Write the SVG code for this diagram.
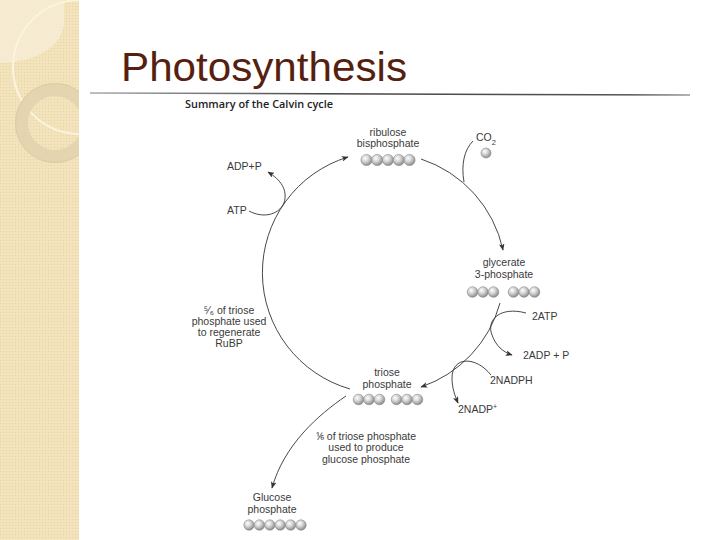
<svg xmlns="http://www.w3.org/2000/svg" width="720" height="540" viewBox="0 0 720 540">
<defs>
<style>
.t{font-family:"Liberation Sans",Arial,sans-serif;font-size:10.5px;fill:#3a3a3a}
.c{text-anchor:middle}
.ln{fill:none;stroke:#333;stroke-width:0.9}
.ball{fill:url(#bg);stroke:#8a8a8a;stroke-width:0.6}
</style>
<pattern id="dots" width="3" height="3" patternUnits="userSpaceOnUse">
<rect width="3" height="3" fill="#f2e2b9"/><rect width="1" height="1" fill="#e8d6a8"/><rect x="1.5" y="1.5" width="1" height="1" fill="#f6eacb"/>
</pattern>
<radialGradient id="bg" cx="38%" cy="35%" r="65%">
<stop offset="0" stop-color="#ffffff"/><stop offset="0.5" stop-color="#d0d0d0"/><stop offset="1" stop-color="#8c8c8c"/>
</radialGradient>
<linearGradient id="lg" x1="0" x2="1" y1="0" y2="0">
<stop offset="0" stop-color="#aaa"/><stop offset="0.4" stop-color="#444"/><stop offset="0.9" stop-color="#555"/><stop offset="1" stop-color="#999"/>
</linearGradient>
<clipPath id="pc"><rect x="0" y="0" width="79" height="540"/></clipPath>
<marker id="ah" viewBox="0 0 10 8" refX="9" refY="4" markerWidth="7" markerHeight="5.6" markerUnits="userSpaceOnUse" orient="auto">
<path d="M0,0 L10,4 L0,8 L2.5,4 z" fill="#333"/>
</marker>
</defs>
<rect width="720" height="540" fill="#fff"/>
<g id="panel">
<rect x="0" y="0" width="79" height="540" fill="url(#dots)"/>
<g clip-path="url(#pc)">
<path d="M0,0 H64 V25 C60,48 36,62 0,63 Z" fill="#f6ecd3" opacity="0.9"/>
<circle cx="80" cy="67" r="67" fill="none" stroke="#fbf4de" stroke-width="2"/>
<circle cx="55" cy="123" r="33.5" fill="none" stroke="#e4d5b0" stroke-width="13"/>
<circle cx="55" cy="123" r="39.5" fill="none" stroke="#ddcca3" stroke-width="1"/>
</g>
</g>
<g id="title">
<text x="121" y="81" font-family="'Liberation Sans',Arial,sans-serif" font-size="40" fill="#561f10" textLength="286" lengthAdjust="spacingAndGlyphs">Photosynthesis</text>
<line x1="90" y1="93" x2="690" y2="95" stroke="url(#lg)" stroke-width="1.5"/>
</g>
<text x="185" y="108" font-family="'Open Sans','Noto Sans',sans-serif" font-size="11" font-weight="600" fill="#222" textLength="148" lengthAdjust="spacingAndGlyphs">Summary of the Calvin cycle</text>
<g id="connectors">
<path class="ln" d="M350,389 A121,121 0 0 1 348,157" marker-end="url(#ah)"/>
<path class="ln" d="M421,159 A123,123 0 0 1 503,250" marker-end="url(#ah)"/>
<path class="ln" d="M500,303 A123,123 0 0 1 421,387" marker-end="url(#ah)"/>
<path class="ln" d="M346,396 C318,415 284,445 272,488" marker-end="url(#ah)"/>
<path class="ln" d="M249,211 C262,218 278,216 284,203 C288,190 281,180 268,172" marker-end="url(#ah)"/>
<path class="ln" d="M473,141 C464,150 461,165 464,182"/>
<path class="ln" d="M526,313 C500,306 486,320 492,335 C496,346 503,352 512,355" marker-end="url(#ah)"/>
<path class="ln" d="M491,375 C476,356 452,356 452,378 C452,388 455,396 458,403" marker-end="url(#ah)"/>
</g>
<g id="ribulose">
<text class="t c" x="388" y="136">ribulose</text>
<text class="t c" x="388" y="147">bisphosphate</text>
<circle class="ball" cx="366.5" cy="160" r="5.6"/><circle class="ball" cx="377.2" cy="160" r="5.6"/><circle class="ball" cx="388" cy="160" r="5.6"/><circle class="ball" cx="398.8" cy="160" r="5.6"/><circle class="ball" cx="409.5" cy="160" r="5.6"/>
</g>
<g id="co2">
<text class="t" x="476" y="141">CO<tspan font-size="7.5" dy="4">2</tspan></text>
<circle class="ball" cx="486" cy="153" r="5"/>
</g>
<g id="atp-left">
<text class="t" x="227" y="170">ADP+P</text>
<text class="t" x="227" y="214">ATP</text>
</g>
<g id="glycerate">
<text class="t c" x="504" y="266">glycerate</text>
<text class="t c" x="504" y="278">3-phosphate</text>
<circle class="ball" cx="472.5" cy="292" r="5.3"/><circle class="ball" cx="483" cy="292" r="5.3"/><circle class="ball" cx="493.5" cy="292" r="5.3"/>
<circle class="ball" cx="513.5" cy="292" r="5.3"/><circle class="ball" cx="524" cy="292" r="5.3"/><circle class="ball" cx="534.5" cy="292" r="5.3"/>
</g>
<g id="regen">
<text class="t c" x="229" y="314">⁵⁄₆ of triose</text>
<text class="t c" x="229" y="325">phosphate used</text>
<text class="t c" x="229" y="336">to regenerate</text>
<text class="t c" x="229" y="347">RuBP</text>
</g>
<g id="atp-right">
<text class="t" x="532" y="320">2ATP</text>
<text class="t" x="523" y="359">2ADP + P</text>
<text class="t" x="490" y="384">2NADPH</text>
<text class="t" x="458" y="413">2NADP<tspan font-size="7" dy="-4">+</tspan></text>
</g>
<g id="triose">
<text class="t c" x="387" y="376">triose</text>
<text class="t c" x="387" y="388">phosphate</text>
<circle class="ball" cx="358.5" cy="399.5" r="5.3"/><circle class="ball" cx="369" cy="399.5" r="5.3"/><circle class="ball" cx="379.5" cy="399.5" r="5.3"/>
<circle class="ball" cx="396.5" cy="399.5" r="5.3"/><circle class="ball" cx="407" cy="399.5" r="5.3"/><circle class="ball" cx="417.5" cy="399.5" r="5.3"/>
</g>
<g id="glucose-note">
<text class="t c" x="366" y="440">⅙ of triose phosphate</text>
<text class="t c" x="366" y="451">used to produce</text>
<text class="t c" x="366" y="463">glucose phosphate</text>
</g>
<g id="glucose">
<text class="t c" x="272" y="501">Glucose</text>
<text class="t c" x="272" y="513">phosphate</text>
<circle class="ball" cx="249" cy="525" r="5.2"/><circle class="ball" cx="259.4" cy="525" r="5.2"/><circle class="ball" cx="269.8" cy="525" r="5.2"/><circle class="ball" cx="280.2" cy="525" r="5.2"/><circle class="ball" cx="290.6" cy="525" r="5.2"/><circle class="ball" cx="301" cy="525" r="5.2"/>
</g>
</svg>
